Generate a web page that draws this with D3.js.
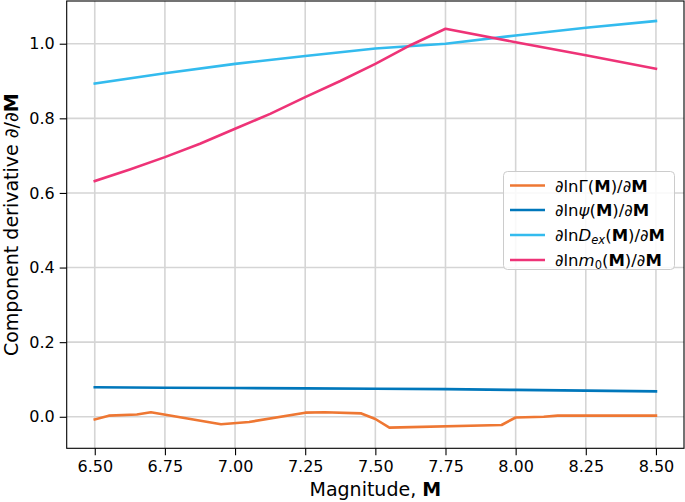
<!DOCTYPE html>
<html><head><meta charset="utf-8">
<script src="https://cdn.jsdelivr.net/npm/d3@7"></script>
<style>body{margin:0;background:#fff}svg{display:block}text{font-family:"DejaVu Sans",sans-serif;fill:#000}</style>
</head><body>
<svg id="c" width="685" height="502"></svg>
<script>
// ---- data ----
const xTicks = [6.50, 6.75, 7.00, 7.25, 7.50, 7.75, 8.00, 8.25, 8.50];
const yTicks = [0.0, 0.2, 0.4, 0.6, 0.8, 1.0];

const gammaM = [6.50, 6.55, 6.65, 6.70, 6.95, 7.05, 7.25, 7.32, 7.45, 7.50, 7.55, 7.95, 8.00, 8.10, 8.15, 8.50];
const gammaV = [-0.007, 0.003, 0.006, 0.012, -0.020, -0.014, 0.011, 0.012, 0.009, -0.006, -0.029, -0.022, -0.002, 0.000, 0.003, 0.003];

const psiM = [6.50, 6.75, 7.00, 7.25, 7.50, 7.75, 8.00, 8.25, 8.50];
const psiV = [0.079, 0.078, 0.077, 0.076, 0.075, 0.074, 0.072, 0.070, 0.068];

const dexM = [6.50, 6.75, 7.00, 7.25, 7.50, 7.75, 8.00, 8.25, 8.50];
const dexV = [0.893, 0.921, 0.946, 0.967, 0.987, 1.000, 1.022, 1.043, 1.061];

const m0M = [6.50, 6.625, 6.75, 6.875, 7.00, 7.125, 7.25, 7.375, 7.50, 7.625, 7.75, 8.00, 8.25, 8.50];
const m0V = [0.632, 0.663, 0.696, 0.732, 0.772, 0.812, 0.857, 0.900, 0.946, 0.996, 1.040, 1.004, 0.969, 0.933];

const seriesNames = ["gamma", "psi", "dex", "m0"];
const seriesColors = ["#EE7733", "#0077BB", "#33BBEE", "#EE3377"];

// ---- layout ----
const L = 66.7, R = 684, T = 1, B = 448.3;
const svg = d3.select("#c");
const x = d3.scaleLinear().domain([6.4, 8.6]).range([L, R]);
const y = d3.scaleLinear().domain([-0.0845, 1.1145]).range([B, T]);

// grid
const g = svg.append("g");
g.selectAll(".vg").data(xTicks).join("line")
  .attr("x1", d => x(d)).attr("x2", d => x(d)).attr("y1", T).attr("y2", B)
  .attr("stroke", "#d5d5d5").attr("stroke-width", 1.6);
g.selectAll(".hg").data(yTicks).join("line")
  .attr("x1", L).attr("x2", R).attr("y1", d => y(d)).attr("y2", d => y(d))
  .attr("stroke", "#d5d5d5").attr("stroke-width", 1.6);

// axes
const xAxis = d3.axisBottom(x).tickValues(xTicks).tickFormat(d3.format(".2f")).tickSize(7).tickPadding(5);
const yAxis = d3.axisLeft(y).tickValues(yTicks).tickFormat(d3.format(".1f")).tickSize(7).tickPadding(5);
const gx = svg.append("g").attr("transform", `translate(0,${B})`).call(xAxis);
const gy = svg.append("g").attr("transform", `translate(${L},0)`).call(yAxis);
[gx, gy].forEach(a => {
  a.select(".domain").remove();
  a.selectAll(".tick line").attr("stroke", "#000").attr("stroke-width", 1.1);
  a.selectAll(".tick text").style("font-size", "16px").style("font-family", "DejaVu Sans");
});

// lines
const data = [
  {m: gammaM, v: gammaV},
  {m: psiM, v: psiV},
  {m: dexM, v: dexV},
  {m: m0M, v: m0V}
];
const line = d3.line().x(d => x(d[0])).y(d => y(d[1]));
data.forEach((s, i) => {
  svg.append("path")
    .datum(s.m.map((mm, j) => [mm, s.v[j]]))
    .attr("d", line).attr("fill", "none")
    .attr("stroke", seriesColors[i]).attr("stroke-width", 2.6)
    .attr("stroke-linejoin", "round").attr("stroke-linecap", "square");
});

// frame
svg.append("rect").attr("x", L).attr("y", T).attr("width", R - L).attr("height", B - T)
  .attr("fill", "none").attr("stroke", "#000").attr("stroke-width", 1.1);

// axis labels
const xl = svg.append("text").attr("x", (L + R) / 2).attr("y", 496)
  .attr("text-anchor", "middle").style("font-size", "19px");
xl.append("tspan").text("Magnitude, ");
xl.append("tspan").attr("font-weight", "bold").text("M");

const yl = svg.append("text").attr("transform", `translate(18,${(T + B) / 2}) rotate(-90)`)
  .attr("text-anchor", "middle").style("font-size", "19px");
yl.append("tspan").text("Component derivative ∂/∂");
yl.append("tspan").attr("font-weight", "bold").text("M");

// legend
const lg = svg.append("g");
lg.append("rect").attr("x", 503.5).attr("y", 171.5).attr("width", 171).attr("height", 98)
  .attr("rx", 4).attr("fill", "#fff").attr("fill-opacity", 0.85)
  .attr("stroke", "#cccccc").attr("stroke-width", 1);
const rowY = [185.5, 210, 235, 260];
const labels = [
  [{t: "∂lnΓ("}, {t: "M", b: 1}, {t: ")/∂"}, {t: "M", b: 1}],
  [{t: "∂ln"}, {t: "ψ", i: 1}, {t: "("}, {t: "M", b: 1}, {t: ")/∂"}, {t: "M", b: 1}],
  [{t: "∂ln"}, {t: "D", i: 1}, {t: "ex", i: 1, sub: 1}, {t: "(", up: 1}, {t: "M", b: 1}, {t: ")/∂"}, {t: "M", b: 1}],
  [{t: "∂ln"}, {t: "m", i: 1}, {t: "0", sub: 1}, {t: "(", up: 1}, {t: "M", b: 1}, {t: ")/∂"}, {t: "M", b: 1}]
];
seriesColors.forEach((c, i) => {
  lg.append("line").attr("x1", 510).attr("x2", 545).attr("y1", rowY[i]).attr("y2", rowY[i])
    .attr("stroke", c).attr("stroke-width", 2.6);
  const t = lg.append("text").attr("x", 555).attr("y", rowY[i] + 6).style("font-size", "16.5px");
  labels[i].forEach(p => {
    const ts = t.append("tspan").text(p.t);
    if (p.b) ts.attr("font-weight", "bold");
    if (p.i) ts.attr("font-style", "italic");
    if (p.sub) ts.attr("dy", 3).style("font-size", "11.5px");
    if (p.up) ts.attr("dy", -3);
  });
});
</script>
</body></html>
